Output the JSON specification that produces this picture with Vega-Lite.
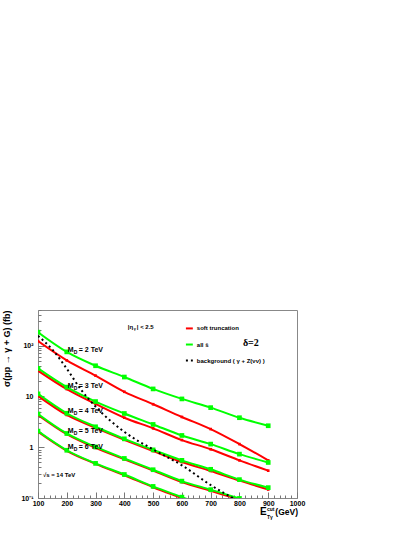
{
  "$schema": "https://vega.github.io/schema/vega-lite/v6.json",
  "autosize": "none",
  "width": 259,
  "height": 188,
  "padding": {"left": 38, "top": 310, "right": 118, "bottom": 39},
  "background": "white",
  "config": {
    "view": {"stroke": "#888888", "strokeWidth": 1},
    "font": "Liberation Sans",
    "axis": {"grid": false, "domain": false, "labelFont": "Liberation Sans", "labelFontWeight": "bold", "labelFontSize": 7, "labelColor": "#000000", "tickColor": "#777777", "titleFont": "Liberation Sans"}
  },
  "datasets": {
    "curves": [
      {"series": "g2", "kind": "green", "x": 100, "y": 183}, {"series": "g2", "kind": "green", "x": 200, "y": 75}, {"series": "g2", "kind": "green", "x": 300, "y": 40}, {"series": "g2", "kind": "green", "x": 400, "y": 24}, {"series": "g2", "kind": "green", "x": 500, "y": 14}, {"series": "g2", "kind": "green", "x": 600, "y": 8.9}, {"series": "g2", "kind": "green", "x": 700, "y": 6.0}, {"series": "g2", "kind": "green", "x": 800, "y": 3.8}, {"series": "g2", "kind": "green", "x": 900, "y": 2.64},
      {"series": "r2", "kind": "red", "x": 100, "y": 122}, {"series": "r2", "kind": "red", "x": 200, "y": 51}, {"series": "r2", "kind": "red", "x": 300, "y": 25.5}, {"series": "r2", "kind": "red", "x": 400, "y": 12.3}, {"series": "r2", "kind": "red", "x": 500, "y": 7.0}, {"series": "r2", "kind": "red", "x": 600, "y": 3.93}, {"series": "r2", "kind": "red", "x": 700, "y": 2.27}, {"series": "r2", "kind": "red", "x": 800, "y": 1.15}, {"series": "r2", "kind": "red", "x": 900, "y": 0.55},
      {"series": "g3", "kind": "green", "x": 100, "y": 35.5}, {"series": "g3", "kind": "green", "x": 200, "y": 15.2}, {"series": "g3", "kind": "green", "x": 300, "y": 7.9}, {"series": "g3", "kind": "green", "x": 400, "y": 4.6}, {"series": "g3", "kind": "green", "x": 500, "y": 2.8}, {"series": "g3", "kind": "green", "x": 600, "y": 1.7}, {"series": "g3", "kind": "green", "x": 700, "y": 1.15}, {"series": "g3", "kind": "green", "x": 800, "y": 0.73}, {"series": "g3", "kind": "green", "x": 900, "y": 0.50},
      {"series": "r3", "kind": "red", "x": 100, "y": 32}, {"series": "r3", "kind": "red", "x": 200, "y": 13.9}, {"series": "r3", "kind": "red", "x": 300, "y": 7.1}, {"series": "r3", "kind": "red", "x": 400, "y": 3.8}, {"series": "r3", "kind": "red", "x": 500, "y": 2.35}, {"series": "r3", "kind": "red", "x": 600, "y": 1.38}, {"series": "r3", "kind": "red", "x": 700, "y": 0.91}, {"series": "r3", "kind": "red", "x": 800, "y": 0.55}, {"series": "r3", "kind": "red", "x": 900, "y": 0.345},
      {"series": "g4", "kind": "green", "x": 100, "y": 11.2}, {"series": "g4", "kind": "green", "x": 200, "y": 4.65}, {"series": "g4", "kind": "green", "x": 300, "y": 2.52}, {"series": "g4", "kind": "green", "x": 400, "y": 1.46}, {"series": "g4", "kind": "green", "x": 500, "y": 0.885}, {"series": "g4", "kind": "green", "x": 600, "y": 0.55}, {"series": "g4", "kind": "green", "x": 700, "y": 0.367}, {"series": "g4", "kind": "green", "x": 800, "y": 0.23}, {"series": "g4", "kind": "green", "x": 900, "y": 0.16},
      {"series": "r4", "kind": "red", "x": 100, "y": 10.2}, {"series": "r4", "kind": "red", "x": 200, "y": 4.3}, {"series": "r4", "kind": "red", "x": 300, "y": 2.4}, {"series": "r4", "kind": "red", "x": 400, "y": 1.4}, {"series": "r4", "kind": "red", "x": 500, "y": 0.84}, {"series": "r4", "kind": "red", "x": 600, "y": 0.51}, {"series": "r4", "kind": "red", "x": 700, "y": 0.34}, {"series": "r4", "kind": "red", "x": 800, "y": 0.22}, {"series": "r4", "kind": "red", "x": 900, "y": 0.147},
      {"series": "g5", "kind": "green", "x": 100, "y": 4.5}, {"series": "g5", "kind": "green", "x": 200, "y": 1.86}, {"series": "g5", "kind": "green", "x": 300, "y": 1.01}, {"series": "g5", "kind": "green", "x": 400, "y": 0.60}, {"series": "g5", "kind": "green", "x": 500, "y": 0.36}, {"series": "g5", "kind": "green", "x": 600, "y": 0.215}, {"series": "g5", "kind": "green", "x": 700, "y": 0.146}, {"series": "g5", "kind": "green", "x": 800, "y": 0.098}, {"series": "g5", "kind": "green", "x": 900, "y": 0.066},
      {"series": "r5", "kind": "red", "x": 100, "y": 4.3}, {"series": "r5", "kind": "red", "x": 200, "y": 1.80}, {"series": "r5", "kind": "red", "x": 300, "y": 0.97}, {"series": "r5", "kind": "red", "x": 400, "y": 0.58}, {"series": "r5", "kind": "red", "x": 500, "y": 0.345}, {"series": "r5", "kind": "red", "x": 600, "y": 0.205}, {"series": "r5", "kind": "red", "x": 700, "y": 0.138}, {"series": "r5", "kind": "red", "x": 800, "y": 0.093}, {"series": "r5", "kind": "red", "x": 900, "y": 0.062},
      {"series": "g6", "kind": "green", "x": 100, "y": 2.07}, {"series": "g6", "kind": "green", "x": 200, "y": 0.87}, {"series": "g6", "kind": "green", "x": 300, "y": 0.48}, {"series": "g6", "kind": "green", "x": 400, "y": 0.29}, {"series": "g6", "kind": "green", "x": 500, "y": 0.169}, {"series": "g6", "kind": "green", "x": 600, "y": 0.104}, {"series": "g6", "kind": "green", "x": 700, "y": 0.064},
      {"series": "r6", "kind": "red", "x": 100, "y": 2.0}, {"series": "r6", "kind": "red", "x": 200, "y": 0.85}, {"series": "r6", "kind": "red", "x": 300, "y": 0.47}, {"series": "r6", "kind": "red", "x": 400, "y": 0.28}, {"series": "r6", "kind": "red", "x": 500, "y": 0.163}, {"series": "r6", "kind": "red", "x": 600, "y": 0.099}, {"series": "r6", "kind": "red", "x": 700, "y": 0.06}
    ],
    "background": [
      {"x": 100, "y": 155}, {"x": 150, "y": 83}, {"x": 200, "y": 35}, {"x": 250, "y": 13.4}, {"x": 300, "y": 6.3}, {"x": 400, "y": 2.0}, {"x": 500, "y": 0.9}, {"x": 600, "y": 0.44}, {"x": 700, "y": 0.18}, {"x": 800, "y": 0.085}
    ]
  },
  "encoding": {
    "x": {"field": "x", "type": "quantitative", "scale": {"domain": [100, 1000], "nice": false, "zero": false},
      "axis": {"title": null, "values": [100,120,140,160,180,200,220,240,260,280,300,320,340,360,380,400,420,440,460,480,500,520,540,560,580,600,620,640,660,680,700,720,740,760,780,800,820,840,860,880,900,920,940,960,980,1000],
        "format": "d", "labelExpr": "datum.value % 100 == 0 ? datum.label : ''", "tickSize": {"condition": {"test": "datum.value % 100 == 0", "value": -6}, "value": -3}, "labelPadding": 7, "labelFlush": false, "labelOverlap": false}},
    "y": {"field": "y", "type": "quantitative", "scale": {"type": "log", "domain": [0.1, 500], "nice": false},
      "axis": {"title": "σ(pp → γ + G)  (fb)", "titleFontWeight": "bold", "titleFontSize": 9, "titleAnchor": "end", "titlePadding": 9,
        "values": [0.1,0.2,0.3,0.4,0.5,0.6,0.7,0.8,0.9,1,2,3,4,5,6,7,8,9,10,20,30,40,50,60,70,80,90,100,200,300,400,500],
        "labelExpr": "datum.value == 100 ? '10²' : datum.value == 10 ? '10' : datum.value == 1 ? '1' : datum.value == 0.1 ? '10⁻¹' : ''",
        "tickSize": {"condition": {"test": "datum.value == 0.1 || datum.value == 1 || datum.value == 10 || datum.value == 100", "value": -6}, "value": -3}, "labelPadding": 11, "labelOverlap": false}}
  },
  "layer": [
    {"data": {"name": "curves"}, "transform": [{"filter": "datum.kind == 'red'"}], "mark": {"type": "line", "color": "#ff0000", "strokeWidth": 2, "interpolate": "monotone", "clip": true}, "encoding": {"detail": {"field": "series"}}},
    {"data": {"name": "curves"}, "transform": [{"filter": "datum.kind == 'red'"}], "mark": {"type": "point", "shape": "square", "filled": true, "color": "#ff0000", "size": 7, "opacity": 1, "clip": true}},
    {"data": {"name": "curves"}, "transform": [{"filter": "datum.kind == 'green'"}], "mark": {"type": "line", "color": "#00ff00", "strokeWidth": 2, "interpolate": "monotone", "clip": true}, "encoding": {"detail": {"field": "series"}}},
    {"data": {"name": "curves"}, "transform": [{"filter": "datum.kind == 'green'"}], "mark": {"type": "point", "shape": "square", "filled": true, "color": "#00ff00", "size": 22, "opacity": 1, "clip": true}},
    {"data": {"name": "background"}, "mark": {"type": "line", "color": "#000000", "strokeWidth": 2, "strokeDash": [2, 3], "interpolate": "monotone", "clip": true}, "encoding": {}},
    {"data": {"values": [{"x": 200, "y": 83, "rest": "= 2 TeV"}, {"x": 200, "y": 16.1, "rest": "= 3 TeV"}, {"x": 200, "y": 5.2, "rest": "= 4 TeV"}, {"x": 200, "y": 2.07, "rest": "= 5 TeV"}, {"x": 200, "y": 1.0, "rest": "= 6 TeV"}]},
      "layer": [
        {"mark": {"type": "text", "text": "M", "align": "left", "baseline": "middle", "fontSize": 7, "fontWeight": "bold", "dx": 1}},
        {"mark": {"type": "text", "text": "D", "align": "left", "baseline": "middle", "fontSize": 5, "fontWeight": "bold", "dx": 7, "dy": 2}},
        {"mark": {"type": "text", "align": "left", "baseline": "middle", "fontSize": 7, "fontWeight": "bold", "dx": 12}, "encoding": {"text": {"field": "rest"}}}
      ]},
    {"data": {"values": [{"x": 412, "y": 227}]},
      "layer": [
        {"mark": {"type": "text", "text": "|η", "align": "left", "baseline": "middle", "fontSize": 6, "fontWeight": "bold"}},
        {"mark": {"type": "text", "text": "γ", "align": "left", "baseline": "middle", "fontSize": 4, "fontWeight": "bold", "dx": 6, "dy": 2}},
        {"mark": {"type": "text", "text": "| < 2.5", "align": "left", "baseline": "middle", "fontSize": 6, "fontWeight": "bold", "dx": 9}}
      ]},
    {"data": {"values": [{"x": 614, "x2": 638, "y": 217, "c": "red"}, {"x": 614, "x2": 638, "y": 104.6, "c": "green"}]},
      "mark": {"type": "rule", "strokeWidth": 2},
      "encoding": {"x2": {"field": "x2"}, "color": {"field": "c", "type": "nominal", "scale": {"domain": ["red", "green"], "range": ["#ff0000", "#00ff00"]}, "legend": null}}},
    {"data": {"values": [{"x": 614, "x2": 638, "y": 50.5}]},
      "mark": {"type": "rule", "strokeWidth": 2, "color": "#000000", "strokeDash": [2, 3]},
      "encoding": {"x2": {"field": "x2"}}},
    {"data": {"values": [{"x": 652, "y": 217, "t": "soft truncation"}, {"x": 652, "y": 104.6, "t": "all ŝ"}, {"x": 652, "y": 50.5, "t": "background ( γ + Z(νν) )"}]},
      "mark": {"type": "text", "align": "left", "baseline": "middle", "fontSize": 6, "fontWeight": "bold"},
      "encoding": {"text": {"field": "t"}}},
    {"data": {"values": [{"x": 812, "y": 114, "t": "δ=2"}]},
      "mark": {"type": "text", "align": "left", "baseline": "middle", "fontSize": 10, "font": "Liberation Serif", "fontWeight": "bold"},
      "encoding": {"text": {"field": "t"}}},
    {"data": {"values": [{"x": 117, "y": 0.279, "t": "√s = 14 TeV"}]},
      "mark": {"type": "text", "align": "left", "baseline": "middle", "fontSize": 6, "fontWeight": "bold"},
      "encoding": {"text": {"field": "t"}}},
    {"data": {"values": [{"x": 1000, "y": 0.1}]},
      "layer": [
        {"mark": {"type": "text", "text": "(GeV)", "align": "right", "baseline": "alphabetic", "fontSize": 8.5, "fontWeight": "bold", "dx": 1, "dy": 17}},
        {"mark": {"type": "text", "text": "E", "align": "left", "baseline": "alphabetic", "fontSize": 10, "fontWeight": "bold", "dx": -37, "dy": 17}},
        {"mark": {"type": "text", "text": "cut", "align": "left", "baseline": "alphabetic", "fontSize": 5, "fontWeight": "bold", "dx": -30, "dy": 13}},
        {"mark": {"type": "text", "text": "Tγ", "align": "left", "baseline": "alphabetic", "fontSize": 5, "fontWeight": "bold", "dx": -30, "dy": 21}}
      ]}
  ]
}
